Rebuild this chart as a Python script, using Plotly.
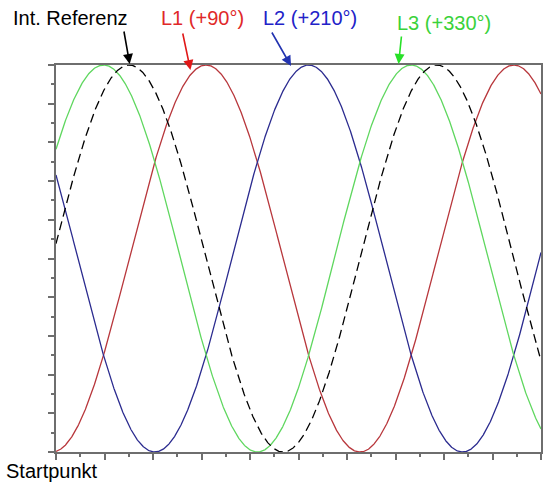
import numpy as np
import plotly.graph_objects as go

# Phasenlage der Signale (Grad), bezogen auf die interne Referenz
namen = ["Int. Referenz", "L1 (+90°)", "L2 (+210°)", "L3 (+330°)"]
phasen = [0, 90, 210, 330]

# sichtbarer Winkelbereich (Grad) am Startpunkt bzw. am rechten Rand
winkel_start = 4.4
winkel_ende = 571.8

# Farben / Stil
linienfarben = ["#000000", "#b8373c", "#2b2b8f", "#5fd75f"]
textfarben = ["#000000", "#e02828", "#2222c8", "#3ad23a"]
pfeilfarben = ["#000000", "#e01818", "#2233b0", "#28e028"]

W, H = 544, 486
L, R, T, B = 56, 543, 65, 452  # Plotbereich in Pixeln


def px2paper(px, py):
    return (px - L) / (R - L), (B - py) / (B - T)


theta = np.linspace(winkel_start, winkel_ende, 1200)

fig = go.Figure()
for i in [1, 2, 3, 0]:
    fig.add_trace(go.Scatter(
        x=theta,
        y=np.sin(np.radians(theta - phasen[i])),
        mode="lines",
        line=dict(color=linienfarben[i], width=1.3,
                  dash="9px,5px" if i == 0 else "solid"),
        hoverinfo="skip",
        showlegend=False,
    ))

# Beschriftungen oben
text_pos = [(71, 18), (203, 18), (311, 18), (446, 23)]
for name, farbe, (px, py) in zip(namen, textfarben, text_pos):
    x, y = px2paper(px, py)
    fig.add_annotation(x=x, y=y, xref="paper", yref="paper", text=name,
                       showarrow=False, xanchor="center", yanchor="middle",
                       font=dict(size=20, color=farbe))

# Pfeile (Spitze, Versatz zum Ende)
pfeile = [((130, 64), (-6, -34)), ((191, 70), (-8, -38)),
          ((292, 66), (-20, -35)), ((400, 64), (3, -29))]
for farbe, ((px, py), (ax, ay)) in zip(pfeilfarben, pfeile):
    x, y = px2paper(px, py)
    fig.add_annotation(x=x, y=y, xref="paper", yref="paper", text="",
                       showarrow=True, ax=ax, ay=ay, arrowcolor=farbe,
                       arrowhead=2, arrowwidth=1.6, arrowsize=1.25, standoff=0)

x, y = px2paper(52, 471)
fig.add_annotation(x=x, y=y, xref="paper", yref="paper", text="Startpunkt",
                   showarrow=False, xanchor="center", yanchor="middle",
                   font=dict(size=20, color="#000000"))

schritt = (winkel_ende - winkel_start) / 20

fig.update_xaxes(
    range=[winkel_start, winkel_ende], showgrid=False, zeroline=False,
    showline=True, linecolor="#6e6e6e", linewidth=2, mirror=True,
    ticks="outside", ticklen=6, tickwidth=1.5, tickcolor="#6e6e6e",
    tick0=winkel_start, dtick=2 * schritt, showticklabels=False,
    minor=dict(ticks="outside", ticklen=3, tickwidth=1.5, tickcolor="#6e6e6e",
               tick0=winkel_start, dtick=schritt, showgrid=False),
)
fig.update_yaxes(
    range=[-1, 1], showgrid=False, zeroline=False,
    showline=True, linecolor="#6e6e6e", linewidth=2, mirror=True,
    ticks="outside", ticklen=6, tickwidth=1.5, tickcolor="#6e6e6e",
    tick0=-1, dtick=0.2, showticklabels=False,
    minor=dict(ticks="outside", ticklen=3, tickwidth=1.5, tickcolor="#6e6e6e",
               tick0=-1, dtick=0.1, showgrid=False),
)

fig.update_layout(
    width=W, height=H,
    margin=dict(l=L, r=W - R, t=T, b=H - B, pad=0),
    paper_bgcolor="white", plot_bgcolor="white",
    font=dict(family="Liberation Sans, Arial, sans-serif"),
)

# Seitenrand des Browsers entfernen, damit die Grafik genau ins Fenster passt
fig.write_html("out.html",
               config={"displayModeBar": False},
               post_script="document.body.style.margin='0';"
                           "document.body.style.overflow='hidden';")
